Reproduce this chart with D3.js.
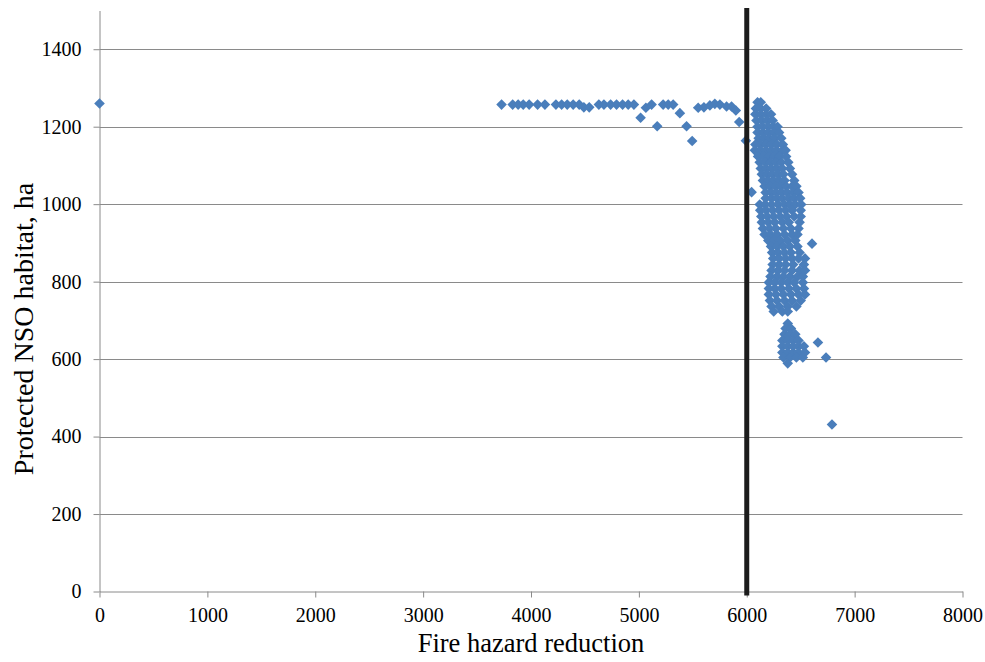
<!DOCTYPE html>
<html>
<head>
<meta charset="utf-8">
<script src="https://cdn.jsdelivr.net/npm/d3@7"></script>
<style>
  body { margin: 0; background: #fff; }
  svg { display: block; }
  text { font-family: "Liberation Serif", "Times New Roman", serif; fill: #000; }
</style>
</head>
<body>
<svg id="chart" width="985" height="662"></svg>
<script>
// Treatment scenarios along the frontier: [fire hazard reduction, protected NSO habitat (ha)]
const frontierPoints = [
  [0,1260],[3727,1257],[3830,1257],[3881,1257],[3928,1257],[3983,1257],[4061,1257],
  [4129,1257],[4231,1257],[4284,1257],[4336,1257],[4391,1257],[4447,1257],[4490,1250],
  [4540,1250],[4629,1257],[4676,1257],[4738,1257],[4793,1257],[4849,1257],[4901,1257],
  [4954,1257],[5016,1223],[5065,1249],[5118,1257],[5170,1201],[5225,1257],[5272,1257],
  [5318,1257],[5380,1235],[5442,1201],[5494,1163],[5550,1249],[5603,1250],[5658,1255],
  [5704,1259],[5751,1257],[5813,1252],[5859,1252],[5899,1242],[5930,1212],[5992,1164],
  [6045,1031]
];

// Dense group of scenarios above 6000, listed by habitat level: [habitat, [hazard reductions]]
const clusterRows = [
  [1263,[6100,6130]],
  [1247,[6085,6130,6180]],
  [1232,[6080,6130,6180,6225]],
  [1216,[6090,6140,6190,6240]],
  [1200,[6100,6150,6200,6250,6285]],
  [1185,[6100,6150,6200,6250,6300]],
  [1170,[6110,6160,6210,6260,6320]],
  [1154,[6080,6130,6180,6230,6280,6335]],
  [1139,[6075,6125,6175,6225,6275,6330,6360]],
  [1123,[6105,6155,6205,6255,6305,6365]],
  [1108,[6120,6170,6220,6270,6320,6385]],
  [1092,[6130,6180,6230,6280,6330,6400]],
  [1077,[6140,6190,6240,6290,6340,6420]],
  [1061,[6150,6200,6250,6300,6350,6440]],
  [1046,[6165,6215,6265,6315,6365,6420,6460]],
  [1030,[6175,6225,6275,6325,6375,6430,6480]],
  [1015,[6175,6230,6280,6330,6390,6440,6495]],
  [999,[6120,6170,6230,6290,6350,6400,6450,6505]],
  [984,[6125,6180,6240,6300,6360,6420,6500]],
  [968,[6135,6190,6250,6310,6370,6440,6500]],
  [953,[6140,6200,6260,6330,6390,6490]],
  [937,[6150,6210,6270,6340,6410,6480]],
  [922,[6165,6220,6280,6350,6420,6470]],
  [906,[6200,6250,6310,6380,6450]],
  [898,[6605]],
  [891,[6225,6280,6340,6400,6470]],
  [875,[6235,6290,6350,6410,6490]],
  [860,[6245,6300,6360,6420,6480,6540]],
  [844,[6240,6300,6360,6430,6530]],
  [829,[6230,6290,6350,6420,6490,6540]],
  [813,[6220,6280,6340,6400,6470,6520]],
  [798,[6205,6260,6320,6380,6440,6520]],
  [782,[6205,6260,6320,6390,6460,6530]],
  [767,[6205,6270,6340,6410,6480,6540]],
  [751,[6215,6280,6350,6420,6500]],
  [736,[6230,6300,6380,6460]],
  [723,[6250,6330,6380]]
];

// Low-habitat scenarios
const lowerRows = [
  [692,[6380]],
  [679,[6360,6410]],
  [664,[6350,6400,6450]],
  [648,[6330,6380,6430,6480]],
  [643,[6660]],
  [633,[6330,6380,6430,6480,6530]],
  [617,[6330,6380,6430,6480,6540]],
  [604,[6340,6400,6460,6520,6735]],
  [589,[6380]],
  [431,[6790]]
];

const xTicks = [0,1000,2000,3000,4000,5000,6000,7000,8000];
const yTicks = [0,200,400,600,800,1000,1200,1400];
const hazardThreshold = 6000;

const points = frontierPoints.concat(
  clusterRows.flatMap(([h, xs]) => xs.map(v => [v, h])),
  lowerRows.flatMap(([h, xs]) => xs.map(v => [v, h]))
);

const svg = d3.select("#chart");
const plotLeft = 99.5, plotRight = 962.5, plotTop = 10.5, plotBottom = 591.5;

const x = d3.scaleLinear().domain([0, 8000]).range([plotLeft, plotRight]);
const y = d3.scaleLinear().domain([0, 1500]).range([plotBottom, plotTop]);

const gridColor = "#8a8a8a";

// horizontal gridlines
svg.append("g")
  .selectAll("line")
  .data(yTicks.filter(d => d > 0))
  .join("line")
  .attr("x1", plotLeft).attr("x2", plotRight)
  .attr("y1", d => Math.round(y(d)) + 0.5).attr("y2", d => Math.round(y(d)) + 0.5)
  .attr("stroke", gridColor).attr("stroke-width", 1);

// y axis
const yAxis = svg.append("g")
  .attr("transform", `translate(${plotLeft},0)`)
  .call(d3.axisLeft(y).tickValues(yTicks).tickSize(6).tickSizeOuter(0).tickPadding(12).tickFormat(d3.format("d")));
yAxis.select(".domain").attr("stroke", gridColor);
yAxis.selectAll(".tick line").attr("stroke", gridColor);
yAxis.selectAll(".tick text").attr("font-size", 20).attr("font-family", "Liberation Serif").attr("fill", "#000");

// x axis
const xAxis = svg.append("g")
  .attr("transform", `translate(0,${plotBottom})`)
  .call(d3.axisBottom(x).tickValues(xTicks).tickSize(6).tickSizeOuter(0).tickPadding(10).tickFormat(d3.format("d")));
xAxis.select(".domain").attr("stroke", gridColor);
xAxis.selectAll(".tick line").attr("stroke", gridColor);
xAxis.selectAll(".tick text").attr("font-size", 20).attr("font-family", "Liberation Serif").attr("fill", "#000");

// scenario markers
svg.append("g")
  .selectAll("path")
  .data(points)
  .join("path")
  .attr("transform", d => `translate(${x(d[0])},${y(d[1])})`)
  .attr("d", "M0,-5.3L5.3,0L0,5.3L-5.3,0Z")
  .attr("fill", "#4a7ebb");

// hazard reduction target
svg.append("line")
  .attr("x1", x(hazardThreshold)).attr("x2", x(hazardThreshold))
  .attr("y1", plotTop - 2.5).attr("y2", plotBottom + 4)
  .attr("stroke", "#1c1c1c").attr("stroke-width", 5);

// axis titles
svg.append("text")
  .attr("x", (plotLeft + plotRight) / 2).attr("y", 652)
  .attr("text-anchor", "middle").attr("font-size", 26.5)
  .text("Fire hazard reduction");

svg.append("text")
  .attr("transform", `translate(33,329) rotate(-90)`)
  .attr("text-anchor", "middle").attr("font-size", 28)
  .text("Protected NSO habitat, ha");
</script>
</body>
</html>
